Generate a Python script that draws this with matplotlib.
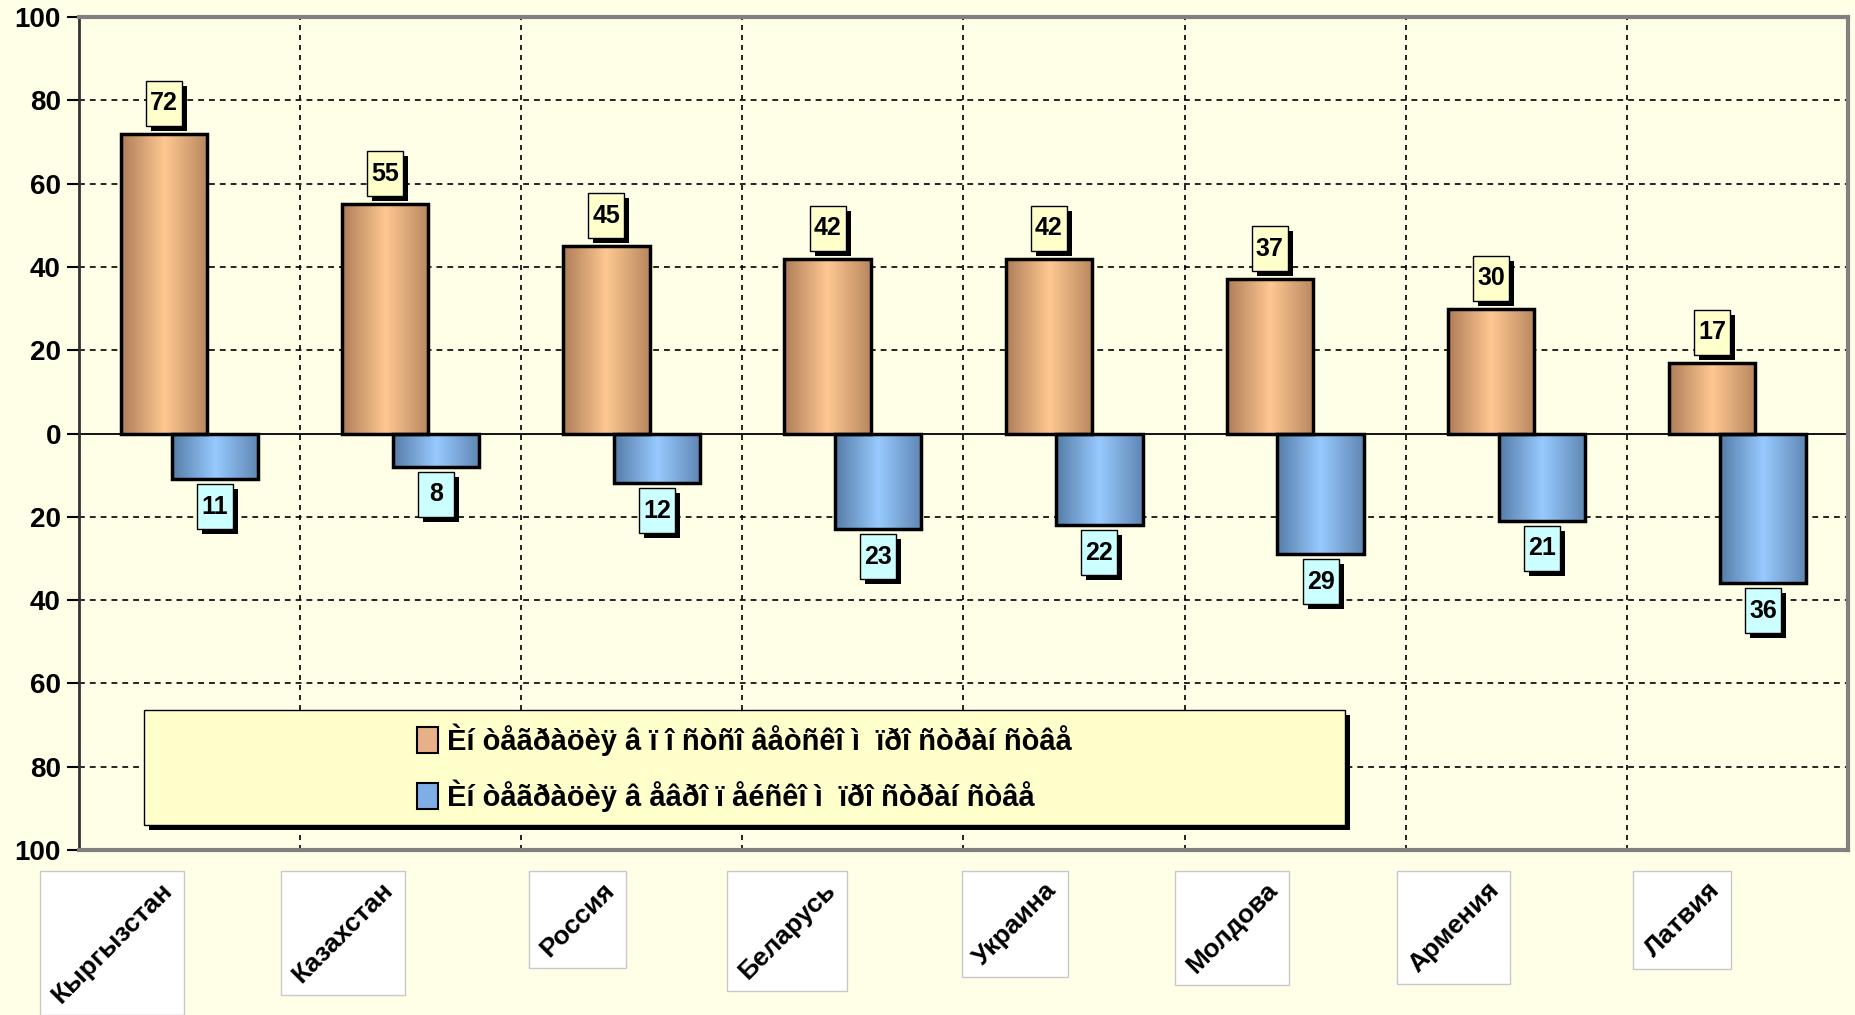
import matplotlib
matplotlib.use('Agg')
import matplotlib.pyplot as plt
import numpy as np
from matplotlib.patches import Rectangle, Patch
from matplotlib.colors import LinearSegmentedColormap

# Данные
countries = ['Кыргызстан', 'Казахстан', 'Россия', 'Беларусь',
             'Украина', 'Молдова', 'Армения', 'Латвия']
post_soviet = [72, 55, 45, 42, 42, 37, 30, 17]
european = [11, 8, 12, 23, 22, 29, 21, 36]
legend_labels = ['Èí òåãðàöèÿ â ï î ñòñî âåòñêî ì  ïðî ñòðàí ñòâå',
                 'Èí òåãðàöèÿ â åâðî ï åéñêî ì  ïðî ñòðàí ñòâå']
y_ticks = [-100, -80, -60, -40, -20, 0, 20, 40, 60, 80, 100]

BG = '#FFFFE8'
W, H = 1856, 1015
AX_L, AX_T, AX_R, AX_B = 79, 17, 1848, 850   # в пикселях
NARROW = ['Liberation Sans Narrow', 'Liberation Sans', 'DejaVu Sans']
plt.rcParams['font.family'] = ['Liberation Sans', 'DejaVu Sans']


def bar_gradient(ax, bars, colors):
    cmap = LinearSegmentedColormap.from_list('g', colors)
    grad = np.linspace(0, 1, 256).reshape(1, -1)
    for bar in bars:
        x0, y0 = bar.get_x(), bar.get_y()
        w, h = bar.get_width(), bar.get_height()
        im = ax.imshow(grad, cmap=cmap, extent=(x0, x0 + w, y0, y0 + h),
                       aspect='auto', zorder=2, interpolation='bilinear')
        im.set_clip_path(bar)


def value_box(ax, xc, ybottom, text, face, px_x, px_y):
    bw, bh = 36 / px_x, 45 / px_y
    ax.add_patch(Rectangle((xc - bw / 2 + 5 / px_x, ybottom - 5 / px_y), bw, bh,
                           facecolor='black', edgecolor='none', zorder=5, clip_on=False))
    ax.add_patch(Rectangle((xc - bw / 2, ybottom), bw, bh, facecolor=face,
                           edgecolor='black', linewidth=1, zorder=6, clip_on=False))
    ax.text(xc, ybottom + bh / 2, text, ha='center', va='center', fontsize=18,
            fontweight='bold', family=NARROW, zorder=7)


def main() -> None:
    fig = plt.figure(figsize=(W / 100, H / 100), dpi=100, facecolor=BG)
    ax = fig.add_axes([AX_L / W, (H - AX_B) / H, (AX_R - AX_L) / W, (AX_B - AX_T) / H],
                      facecolor=BG)
    n = len(countries)
    px_x = (AX_R - AX_L) / n
    px_y = (AX_B - AX_T) / 200

    x = np.arange(n) + 0.5
    width, off = 0.39, 0.115
    neg = [-v for v in european]

    b1 = ax.bar(x - off, post_soviet, width, facecolor='none', edgecolor='black',
                linewidth=2.5, zorder=3)
    b2 = ax.bar(x + off, neg, width, facecolor='none', edgecolor='black',
                linewidth=2.5, zorder=3)
    bar_gradient(ax, b1, ['#AE7C58', '#FFC892', '#B8875F'])
    bar_gradient(ax, b2, ['#557CA8', '#98CAFF', '#5F86B2'])

    # Подписи значений
    for xc, v in zip(x - off, post_soviet):
        value_box(ax, xc, v + 8 / px_y, str(v), '#FFFFCC', px_x, px_y)
    for xc, v in zip(x + off, european):
        value_box(ax, xc, -v - 5 / px_y - 45 / px_y, str(v), '#CCFFFF', px_x, px_y)

    # Сетка
    for t in y_ticks:
        if t not in (-100, 0, 100):
            ax.axhline(t, color='black', linewidth=1.2, linestyle=(0, (3.5, 3)), zorder=1)
    for i in range(1, n):
        ax.axvline(i, color='black', linewidth=1.2, linestyle=(0, (3, 3)), zorder=1)
    ax.axhline(0, color='black', linewidth=1.3, zorder=2.5)

    ax.set_xlim(0, n)
    ax.set_ylim(-100, 100)
    ax.set_xticks([])
    ax.set_yticks(y_ticks)
    ax.set_yticklabels([str(abs(t)) for t in y_ticks], fontsize=20, fontweight='bold')
    ax.tick_params(axis='y', direction='out', length=9, width=1.5, pad=4)

    ax.spines['left'].set_color('#333333')
    ax.spines['left'].set_linewidth(2)
    for s in ('top', 'right', 'bottom'):
        ax.spines[s].set_color('#808080')
        ax.spines[s].set_linewidth(3)

    # Легенда
    lx, ly, lw, lh = 0.0367, 0.030, 0.679, 0.138
    ax.add_patch(Rectangle((lx + 5 / (AX_R - AX_L), ly - 5 / (AX_B - AX_T)), lw, lh,
                           transform=ax.transAxes, facecolor='black', zorder=8))
    ax.add_patch(Rectangle((lx, ly), lw, lh, transform=ax.transAxes,
                           facecolor='#FFFFCC', edgecolor='black', linewidth=1, zorder=9))
    handles = [Patch(facecolor='#E8B088', edgecolor='black', linewidth=1.5),
               Patch(facecolor='#7FAEE6', edgecolor='black', linewidth=1.5)]
    leg = ax.legend(handles, legend_labels, loc='center',
                    bbox_to_anchor=(lx + lw / 2, ly + lh / 2), frameon=False,
                    prop={'family': NARROW, 'size': 21, 'weight': 'bold'},
                    handlelength=0.7, handleheight=1.0, handletextpad=0.3,
                    labelspacing=0.8)
    leg.set_zorder(10)

    # Подписи стран
    labels = []
    for i, name in enumerate(countries):
        cx = AX_L + px_x * (i + 0.5)
        t = fig.text((cx - 13) / W, (H - 878) / H, name, rotation=45,
                     ha='right', va='top', fontsize=19, fontweight='bold', zorder=5)
        labels.append(t)
    fig.canvas.draw()
    r = fig.canvas.get_renderer()
    for t in labels:
        bb = t.get_window_extent(r)
        pad = 7
        fig.add_artist(Rectangle(((bb.x0 - pad) / W, (bb.y0 - pad) / H),
                                 (bb.width + 2 * pad) / W, (bb.height + 2 * pad) / H,
                                 transform=fig.transFigure, facecolor='white',
                                 edgecolor='#C8C8C8', linewidth=1, zorder=4))

    fig.savefig('out.png', dpi=100, facecolor=BG)


if __name__ == '__main__':
    main()
